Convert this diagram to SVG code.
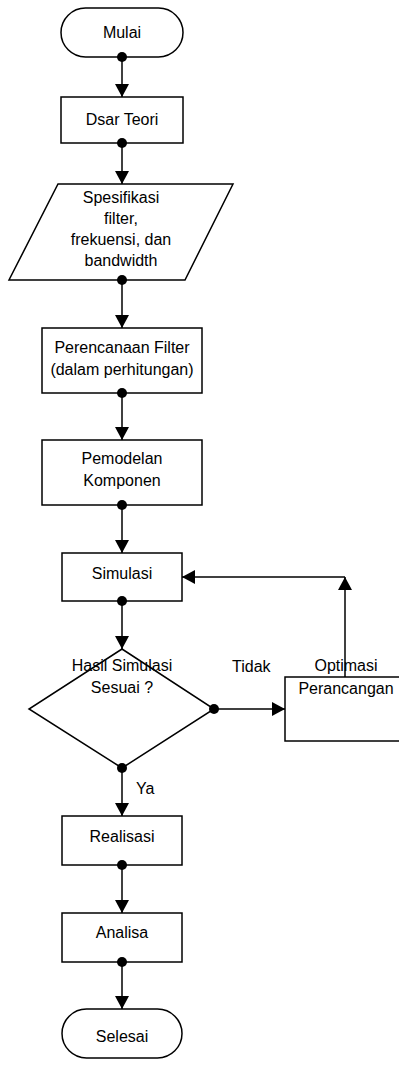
<svg xmlns="http://www.w3.org/2000/svg" width="399" height="1068" viewBox="0 0 399 1068">
<style>
.shape{fill:#fff;stroke:#000;stroke-width:1.5}
.lbl{font-family:"Liberation Sans",Arial,sans-serif;font-size:16px;fill:#000;text-anchor:middle}
.lbl-s{font-family:"Liberation Sans",Arial,sans-serif;font-size:16px;fill:#000}
.conn{fill:none;stroke:#000;stroke-width:1.5}
</style>
<defs>
<marker id="arrow" markerUnits="userSpaceOnUse" markerWidth="14" markerHeight="14" refX="13" refY="7" orient="auto">
<path d="M0,0 L13,7 L0,14 z" fill="#000"/>
</marker>
<marker id="dot" markerUnits="userSpaceOnUse" markerWidth="12" markerHeight="12" refX="6" refY="6" orient="auto">
<circle cx="6" cy="6" r="5" fill="#000"/>
</marker>
</defs>
<rect width="399" height="1068" fill="#fff"/>

<g id="mulai">
<rect class="shape" x="61" y="8" width="122" height="49" rx="24.5" ry="24.5"/>
<text class="lbl" x="122" y="38">Mulai</text>
</g>
<g id="dasar-teori">
<rect class="shape" x="61" y="97" width="122" height="46"/>
<text class="lbl" x="122" y="125">Dsar Teori</text>
</g>
<g id="spesifikasi">
<polygon class="shape" points="58,184 233,184 185,280 9,280"/>
<text class="lbl" x="121" y="203">Spesifikasi</text>
<text class="lbl" x="121" y="224">filter,</text>
<text class="lbl" x="121" y="245">frekuensi, dan</text>
<text class="lbl" x="121" y="266">bandwidth</text>
</g>
<g id="perencanaan">
<rect class="shape" x="42" y="328" width="160" height="65"/>
<text class="lbl" x="122" y="353">Perencanaan Filter</text>
<text class="lbl" x="122" y="375">(dalam perhitungan)</text>
</g>
<g id="pemodelan">
<rect class="shape" x="42" y="440" width="160" height="65"/>
<text class="lbl" x="122" y="464">Pemodelan</text>
<text class="lbl" x="122" y="486">Komponen</text>
</g>
<g id="simulasi">
<rect class="shape" x="62" y="553" width="120" height="48"/>
<text class="lbl" x="122" y="579">Simulasi</text>
</g>
<g id="keputusan">
<polygon class="shape" points="122,649 214,709 122,768 29,709"/>
<text class="lbl" x="122" y="671">Hasil Simulasi</text>
<text class="lbl" x="122" y="693">Sesuai ?</text>
</g>
<g id="optimasi">
<rect class="shape" x="285" y="677" width="120" height="64"/>
<text class="lbl" x="346" y="671">Optimasi</text>
<text class="lbl" x="346" y="694">Perancangan</text>
</g>
<g id="realisasi">
<rect class="shape" x="62" y="816" width="120" height="49"/>
<text class="lbl" x="122" y="842">Realisasi</text>
</g>
<g id="analisa">
<rect class="shape" x="62" y="913" width="120" height="49"/>
<text class="lbl" x="122" y="938">Analisa</text>
</g>
<g id="selesai">
<rect class="shape" x="62" y="1009" width="120" height="49" rx="24.5" ry="24.5"/>
<text class="lbl" x="122" y="1042">Selesai</text>
</g>

<g id="connectors">
<path class="conn" d="M122,57 L122,97" marker-start="url(#dot)" marker-end="url(#arrow)"/>
<path class="conn" d="M122,143 L122,184" marker-start="url(#dot)" marker-end="url(#arrow)"/>
<path class="conn" d="M122,280 L122,328" marker-start="url(#dot)" marker-end="url(#arrow)"/>
<path class="conn" d="M122,393 L122,440" marker-start="url(#dot)" marker-end="url(#arrow)"/>
<path class="conn" d="M122,505 L122,553" marker-start="url(#dot)" marker-end="url(#arrow)"/>
<path class="conn" d="M122,601 L122,649" marker-start="url(#dot)" marker-end="url(#arrow)"/>
<path class="conn" d="M214,709 L285,709" marker-start="url(#dot)" marker-end="url(#arrow)"/>
<path class="conn" d="M345,677 L345,577" marker-end="url(#arrow)"/>
<path class="conn" d="M345,577 L182,577" marker-end="url(#arrow)"/>
<path class="conn" d="M122,768 L122,816" marker-start="url(#dot)" marker-end="url(#arrow)"/>
<path class="conn" d="M122,865 L122,913" marker-start="url(#dot)" marker-end="url(#arrow)"/>
<path class="conn" d="M122,962 L122,1009" marker-start="url(#dot)" marker-end="url(#arrow)"/>
<text class="lbl-s" x="232" y="672">Tidak</text>
<text class="lbl-s" x="136" y="794">Ya</text>
</g>
</svg>
